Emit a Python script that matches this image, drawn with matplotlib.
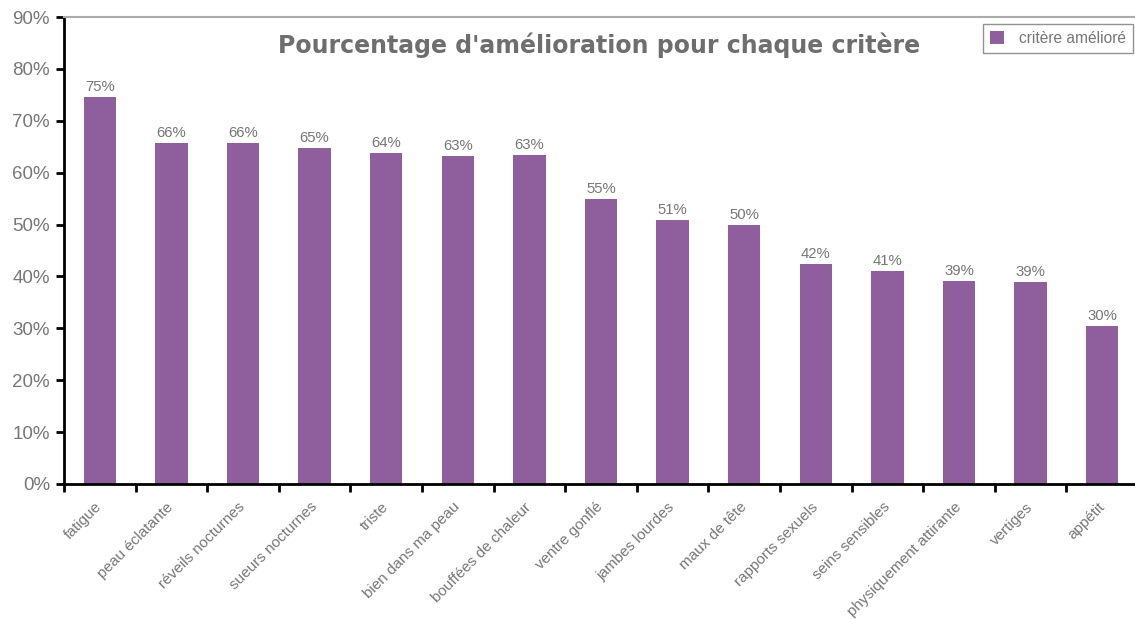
import matplotlib
matplotlib.use("Agg")
import matplotlib.pyplot as plt
import numpy as np

categories = ["fatigue", "peau éclatante", "réveils nocturnes", "sueurs nocturnes",
              "triste", "bien dans ma peau", "bouffées de chaleur", "ventre gonflé",
              "jambes lourdes", "maux de tête", "rapports sexuels", "seins sensibles",
              "physiquement attirante", "vertiges", "appétit"]
values = [74.6, 65.8, 65.7, 64.8, 63.8, 63.2, 63.4, 54.9, 50.9, 50.0, 42.4, 41.0, 39.1, 38.9, 30.4]
value_labels = ["75%", "66%", "66%", "65%", "64%", "63%", "63%", "55%", "51%", "50%",
                "42%", "41%", "39%", "39%", "30%"]
y_ticks = [0, 10, 20, 30, 40, 50, 60, 70, 80, 90]
title = "Pourcentage d'amélioration pour chaque critère"

plt.rcParams['font.family'] = ['Liberation Sans', 'DejaVu Sans']
gray = '#777777'
bar_color = '#8e5e9d'

W, H = 1135, 619
DPI = 100
fig = plt.figure(figsize=(W / DPI, H / DPI), dpi=DPI)
ax = fig.add_axes([64 / W, (H - 484) / H, 1074 / W, 467 / H])

x = np.arange(len(categories))
ax.bar(x, values, width=0.45, color=bar_color, label="critère amélioré", zorder=2)
for xi, v, lab in zip(x, values, value_labels):
    ax.annotate(lab, (xi, v), xytext=(0, 2), textcoords='offset points',
                ha='center', va='bottom', fontsize=10.7, color=gray)

ax.set_xlim(-0.5, len(categories) - 0.5)
ax.set_ylim(0, 90)
ax.set_yticks(y_ticks)
ax.set_yticklabels([f"{t}%" for t in y_ticks], fontsize=13.5, color=gray)
ax.tick_params(axis='y', direction='out', length=6, width=2, color='black', pad=4)

ax.set_xticks(x)
ax.set_xticklabels(categories, rotation=45, ha='right', va='center',
                   rotation_mode='anchor', fontsize=11, color=gray)
ax.tick_params(axis='x', which='major', length=0, pad=15)
ax.set_xticks(np.arange(len(categories) + 1) - 0.5, minor=True)
ax.tick_params(axis='x', which='minor', direction='out', length=6, width=2, color='black')

ax.spines['left'].set_linewidth(2)
ax.spines['bottom'].set_linewidth(2)
ax.spines['top'].set_color('#aaaaaa')
ax.spines['top'].set_linewidth(1.5)
ax.spines['right'].set_visible(False)

fig.text(599 / W, 1 - 53 / H, title, ha='center', va='baseline',
         family='DejaVu Sans', fontsize=17.0, fontweight='bold', color='#6e6e6e')

leg = fig.legend(loc='upper right', bbox_to_anchor=(1133 / W, 1 - 24 / H),
                 borderaxespad=0, fontsize=11.2, frameon=True, fancybox=False,
                 edgecolor='#777777', handlelength=0.9, handleheight=0.9,
                 borderpad=0.45, handletextpad=0.95)
leg.get_frame().set_linewidth(1)
for t in leg.get_texts():
    t.set_color(gray)

fig.savefig("out.png", dpi=DPI)
